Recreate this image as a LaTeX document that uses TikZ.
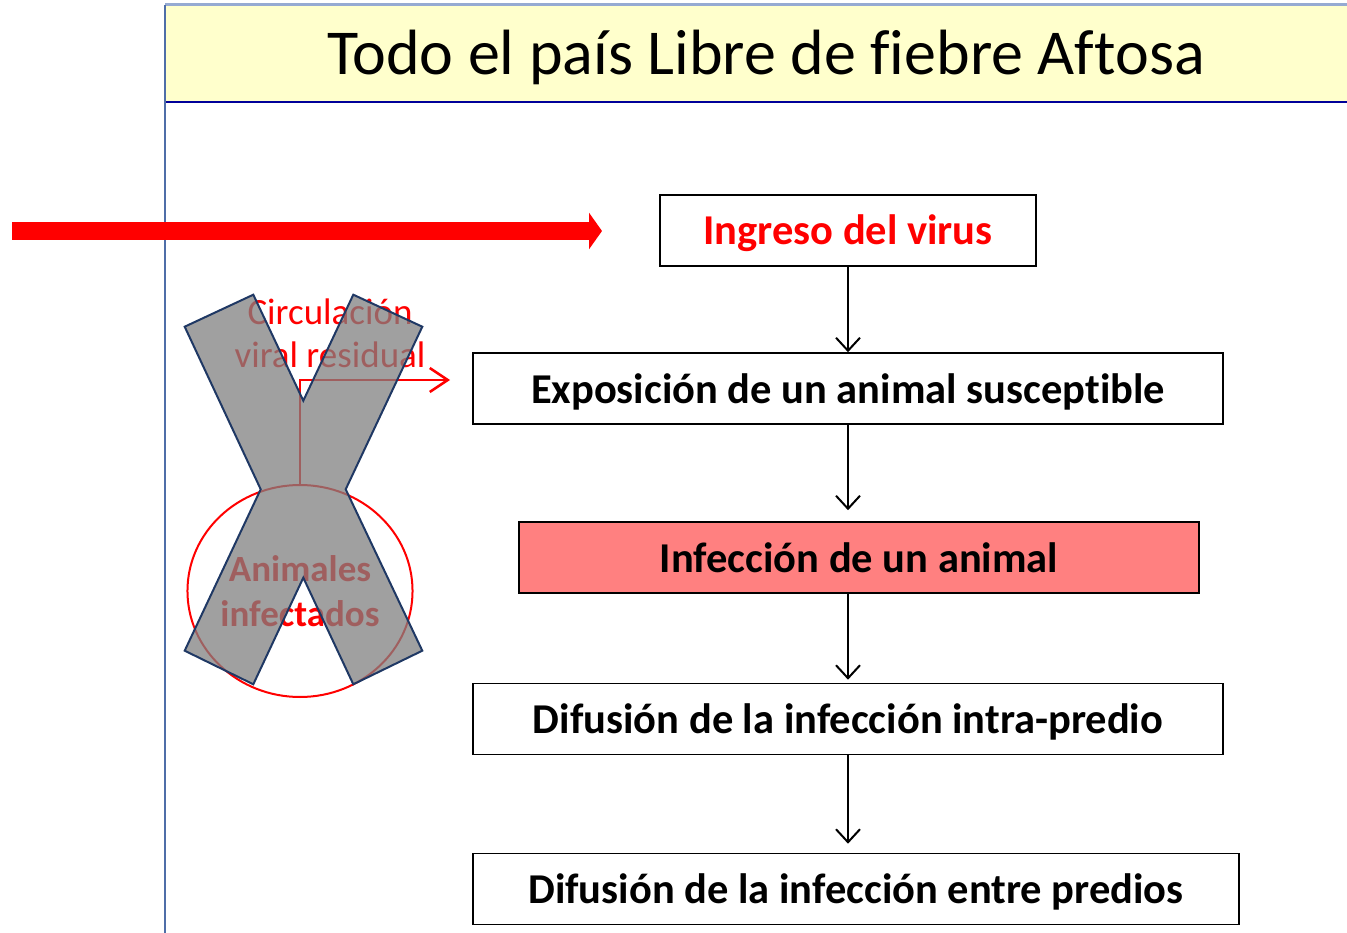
\documentclass[tikz,border=0pt]{standalone}
\usepackage{fontspec}
\setmainfont{Carlito}[Ligatures={NoCommon}]
\usetikzlibrary{arrows.meta,shapes.geometric}
\tikzset{>={Straight Barb[length=13pt,width=24pt]}}
\definecolor{TitleYellow}{RGB}{255,255,204}
\definecolor{TitleNavy}{RGB}{0,0,153}
\definecolor{FrameBlue}{RGB}{79,110,168}
\definecolor{FrameLight}{RGB}{149,170,210}
\definecolor{Salmon}{RGB}{255,128,128}
\definecolor{XNavy}{RGB}{31,56,100}
\tikzset{paso/.style={draw=black,line width=1.6pt,minimum height=71pt,inner sep=0pt,text height=29pt,text depth=0pt,font=\fontsize{42.5}{50}\selectfont\bfseries}}

\begin{document}
\begin{tikzpicture}[x=1pt,y=-1pt]
\useasboundingbox (0,0) rectangle (1347,933);
\fill[TitleYellow] (165,5) rectangle (1347,102);
\draw[FrameLight,line width=3pt] (165,5) -- (1347,5);
\draw[TitleNavy,line width=2.5pt] (165,102) -- (1347,102);
\draw[FrameBlue,line width=2pt] (165,5) -- (165,933);
\node (titulo) at (766,57) {\fontsize{64}{76}\selectfont Todo el país Libre de fiebre Aftosa};

\node[paso,minimum width=376pt,text=red] (ingreso) at (848,230.5) {Ingreso del virus};
\node[paso,minimum width=750pt] (expo) at (848,388.5) {Exposición de un animal susceptible};
\node[paso,minimum width=680pt,fill=Salmon] (infec) at (859,557.5) {Infección de un animal};
\node[paso,minimum width=750pt] (intra) at (848,719) {Difusión de la infección intra-predio};
\node[paso,minimum width=766pt] (entre) at (856,889) {Difusión de la infección entre predios};
\draw[->,line width=2pt] (ingreso) -- (expo);
\draw[->,line width=2pt,shorten >=11pt] (expo.south) -- (expo.south |- infec.north);
\draw[->,line width=2pt,shorten >=3pt] (infec.south -| intra.north) -- (intra.north);
\draw[->,line width=2pt,shorten >=9pt] (intra.south) -- (entre.north -| intra.south);

\coordinate (origen) at (12,231);
\coordinate (llegada) at (602,231);
\draw[red,line width=18pt,-{Triangle[length=13pt,width=36pt]}] (origen) -- (llegada);

\node[ellipse,draw=red,line width=2pt,minimum width=225pt,minimum height=212pt,inner sep=0pt,text=red,align=center,font=\fontsize{37}{45}\selectfont\bfseries] (animales) at (300,591) {Animales\\infectados};
\node[text=red,align=center,font=\fontsize{37}{43}\selectfont] (circ) at (330,333) {Circulación\\viral residual};
\coordinate (salida) at (450,380);
\draw[red,line width=2.5pt,-{Straight Barb[length=18pt,width=24pt]}] (animales.north) |- (salida);
\draw[XNavy,line width=2pt,fill=gray,fill opacity=0.75] (184.7,326.7) -- (253.3,294.7) -- (303.3,400.7) -- (353.3,294.7) -- (422.3,326.7) -- (345.7,489.3) -- (422.3,650.7) -- (353.3,684.3) -- (303.3,577.7) -- (253.3,684.3) -- (184.7,650.7) -- (260.7,489.3) -- cycle;
\end{tikzpicture}
\end{document}
